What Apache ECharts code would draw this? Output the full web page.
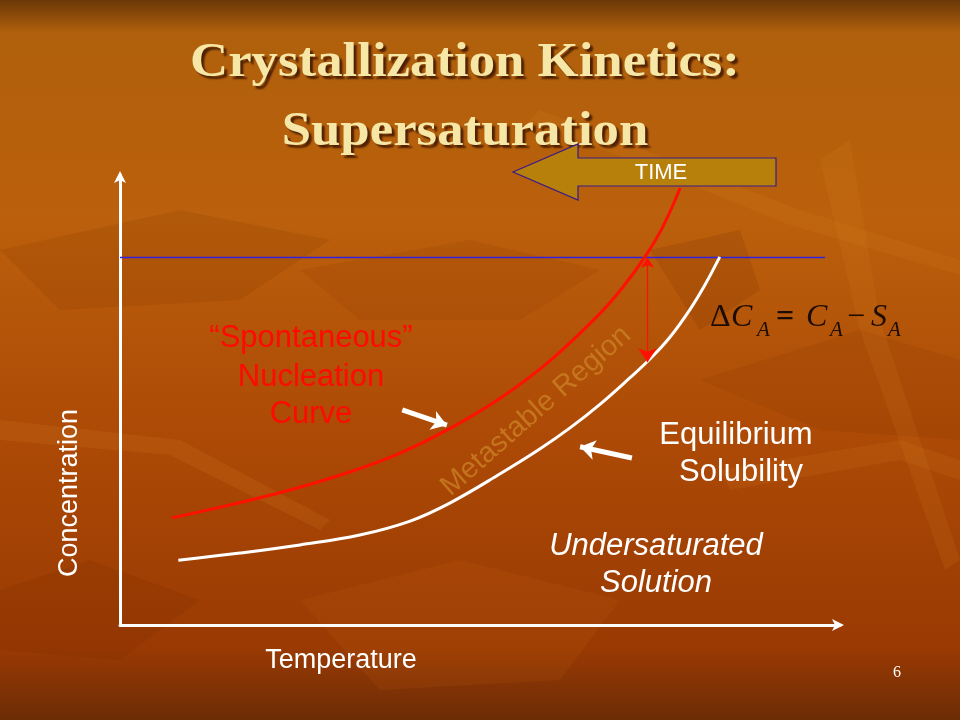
<!DOCTYPE html>
<html>
<head>
<meta charset="utf-8">
<style>html,body{margin:0;padding:0;background:#a84806;}#c{width:960px;height:720px;}</style>
<script src="https://cdn.jsdelivr.net/npm/echarts@6/dist/echarts.min.js"></script>
</head>
<body>
<div id="c"></div>
<script>
// ---- data (schematic) ----
const nucleationT = [7.2, 15.3, 23.6, 31.9, 38.9, 45.4, 52.8, 59.7, 66.7, 70.1, 72.9, 75.3, 77.8];
const nucleationC = [23.8, 26.7, 30.0, 34.0, 38.2, 43.3, 50.4, 58.7, 69.3, 75.6, 81.8, 88.2, 97.1];
const solubilityT = [8.1, 16.7, 25.0, 33.3, 40.3, 45.8, 52.8, 58.3, 62.5, 66.7, 70.8, 73.6, 76.4, 79.2, 81.25, 83.3];
const solubilityC = [14.4, 16.0, 17.8, 20.0, 23.1, 27.1, 33.6, 39.1, 43.8, 49.1, 54.9, 59.1, 64.0, 70.2, 75.6, 81.8];
const operatingC = 81.67;         // horizontal line level
const operatingTEnd = 97.9;
const deltaT = 73.26;             // where ΔC is measured
const deltaTop = 81.6, deltaBottom = 58.4;
const pointerNuc = [[39.2, 47.8], [45.4, 44.4]];
const pointerSol = [[71.1, 37.1], [63.9, 39.6]];

const zip = (a, b) => a.map((v, i) => [v, b[i]]);

const chart = echarts.init(document.getElementById('c'), null, {renderer: 'canvas'});

const sans = 'Arial, "Liberation Sans", sans-serif';
const serif = '"Times New Roman", "Liberation Serif", serif';

const bgShapes = [
  // dark leaves
  {pts: [[0,250],[180,210],[330,240],[240,300],[60,310]], c: 'rgba(110,40,0,0.12)'},
  {pts: [[300,270],[470,240],[600,270],[520,320],[360,320]], c: 'rgba(110,40,0,0.10)'},
  {pts: [[700,380],[860,330],[960,360],[960,440],[820,430]], c: 'rgba(110,40,0,0.10)'},
  {pts: [[0,590],[90,560],[200,600],[120,660],[0,650]], c: 'rgba(100,30,0,0.12)'},
  {pts: [[650,250],[740,230],[760,290],[700,330]], c: 'rgba(100,35,0,0.14)'},
  // light streaks
  {pts: [[0,420],[180,440],[330,520],[320,530],[170,455],[0,440]], c: 'rgba(225,140,40,0.14)'},
  {pts: [[540,110],[800,210],[960,260],[960,275],[790,225],[530,120]], c: 'rgba(225,140,40,0.12)'},
  {pts: [[720,470],[900,440],[960,460],[960,480],[900,460],[730,490]], c: 'rgba(225,140,40,0.12)'},
  {pts: [[820,160],[850,140],[880,320],[960,560],[945,570],[860,330]], c: 'rgba(225,140,40,0.12)'},
  {pts: [[300,600],[460,560],[620,600],[560,680],[380,690]], c: 'rgba(215,120,30,0.10)'}
];

const graphics = [
  {type: 'rect', z: -10, silent: true, shape: {x: 0, y: 0, width: 960, height: 720},
   style: {fill: new echarts.graphic.LinearGradient(0, 0, 0, 1, [
     {offset: 0, color: '#6a3808'}, {offset: 0.045, color: '#b0600c'},
     {offset: 0.3, color: '#bb600c'}, {offset: 0.6, color: '#ad4a06'},
     {offset: 0.9, color: '#9a3a03'}, {offset: 1, color: '#6c2c06'}])}}
];
bgShapes.forEach(s => graphics.push({type: 'polygon', z: -9, silent: true,
  shape: {points: s.pts}, style: {fill: s.c}}));

// title
[['Crystallization Kinetics:', 64], ['Supersaturation', 133]].forEach(([t, y]) => {
  graphics.push({type: 'text', z: 10, x: 465, y: y, scaleX: 1.1, style: {
    text: t, font: 'bold 48px ' + serif, fill: '#f7e7a6', align: 'center', verticalAlign: 'middle',
    textShadowColor: 'rgba(60,20,0,0.85)', textShadowOffsetX: 3, textShadowOffsetY: 3, textShadowBlur: 2}});
});

// TIME arrow
graphics.push({type: 'polygon', z: 10, shape: {points: [[513,172],[578,144],[578,158],[776,158],[776,186],[578,186],[578,200]]},
  style: {fill: '#b7800a', stroke: '#3a1a8a', lineWidth: 1.2}});
graphics.push({type: 'text', z: 11, x: 661, y: 173, style: {text: 'TIME', font: '22px ' + sans, fill: '#ffffff', align: 'center', verticalAlign: 'middle'}});

// labels
const lbl = (t, x, y, opt) => graphics.push(Object.assign({type: 'text', z: 10, x: x, y: y,
  style: Object.assign({text: t, font: '31px ' + sans, fill: '#ffffff', align: 'center', verticalAlign: 'middle'}, opt || {})}));
lbl('\u201CSpontaneous\u201D', 311, 338, {fill: '#ff0a00'});
lbl('Nucleation', 311, 377, {fill: '#ff0a00'});
lbl('Curve', 311, 414, {fill: '#ff0a00'});
lbl('Equilibrium', 736, 435);
lbl('Solubility', 741, 472);
lbl('Undersaturated', 656, 546, {font: 'italic 31px ' + sans});
lbl('Solution', 656, 583, {font: 'italic 31px ' + sans});
lbl('Temperature', 341, 661, {font: '27px ' + sans});
graphics.push({type: 'text', z: 10, x: 70, y: 493, rotation: Math.PI / 2,
  style: {text: 'Concentration', font: '27px ' + sans, fill: '#ffffff', align: 'center', verticalAlign: 'middle'}});
graphics.push({type: 'text', z: 5, x: 536, y: 411, rotation: 0.72,
  style: {text: 'Metastable Region', font: '29px ' + sans, fill: 'rgba(205,135,40,0.7)', align: 'center', verticalAlign: 'middle'}});
lbl('6', 897, 673, {font: '16px ' + serif});

// formula ΔC_A = C_A − S_A
const fm = (t, x, y, font) => graphics.push({type: 'text', z: 10, x: x, y: y,
  style: {text: t, font: font, fill: '#1c0c02', align: 'left', verticalAlign: 'bottom'}});
const big = '32px ' + serif, bigI = 'italic 32px ' + serif, sub = 'italic 21px ' + serif;
fm('\u0394', 710, 334, big);
fm('C', 731, 334, bigI);
fm('A', 757, 341, sub);
fm('=', 776, 334, 'bold 32px ' + serif);
fm('C', 806, 334, bigI);
fm('A', 830, 341, sub);
fm('\u2212', 847, 334, big);
fm('S', 871, 334, bigI);
fm('A', 888, 341, sub);

const option = {
  animation: false,
  grid: {left: 120, right: 120, top: 175, bottom: 95},
  xAxis: {type: 'value', min: 0, max: 100,
    axisLine: {lineStyle: {color: '#ffffff', width: 3}, symbol: ['none', 'arrow'], symbolSize: [9, 12], symbolOffset: [0, 4]},
    axisTick: {show: false}, axisLabel: {show: false}, splitLine: {show: false}},
  yAxis: {type: 'value', min: 0, max: 100,
    axisLine: {lineStyle: {color: '#ffffff', width: 3}, symbol: ['none', 'arrow'], symbolSize: [9, 12], symbolOffset: [0, 4]},
    axisTick: {show: false}, axisLabel: {show: false}, splitLine: {show: false}},
  graphic: graphics,
  series: [
    {type: 'line', name: 'Operating level', silent: true, z: 4, showSymbol: false,
     data: [[0, operatingC], [operatingTEnd, operatingC]],
     lineStyle: {color: '#3322dd', width: 1.6}},
    {type: 'lines', coordinateSystem: 'cartesian2d', silent: true, z: 7,
     symbol: ['arrow', 'arrow'], symbolSize: [10, 14],
     itemStyle: {color: '#ff1000'},
     lineStyle: {color: '#ff1000', width: 1.2, opacity: 1},
     data: [{coords: [[deltaT, deltaTop], [deltaT, deltaBottom]], lineStyle: {color: '#ff1000', width: 1.2, opacity: 1}}]},
    {type: 'lines', coordinateSystem: 'cartesian2d', silent: true, z: 7,
     symbol: ['none', 'arrow'], symbolSize: 15, lineStyle: {color: '#ffffff', width: 5, opacity: 1},
     data: [{coords: pointerNuc}, {coords: pointerSol}]},
    {type: 'line', name: 'Nucleation', data: zip(nucleationT, nucleationC), smooth: 0.4, showSymbol: false,
     lineStyle: {color: '#ff1000', width: 3}, z: 6},
    {type: 'line', name: 'Solubility', data: zip(solubilityT, solubilityC), smooth: 0.4, showSymbol: false,
     lineStyle: {color: '#ffffff', width: 3}, z: 6}
  ]
};
chart.setOption(option);
</script>
</body>
</html>
